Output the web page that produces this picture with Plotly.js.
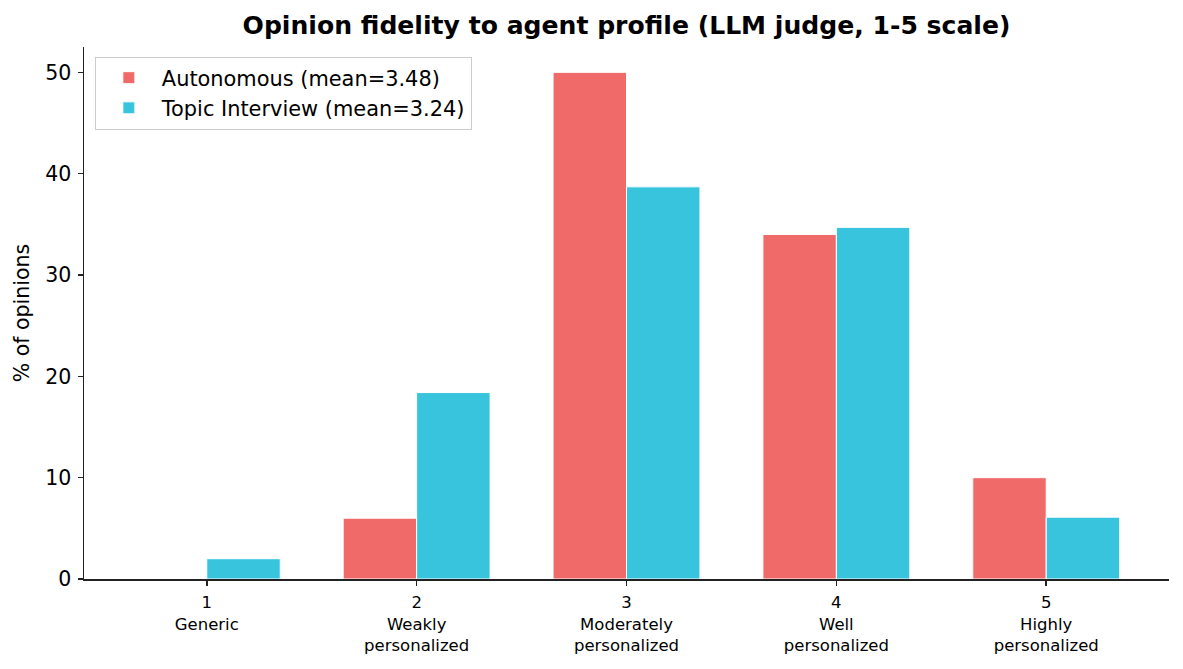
<!DOCTYPE html>
<html>
<head>
<meta charset="utf-8">
<script src="https://cdn.plot.ly/plotly-3.0.1.min.js"></script>
<style>html,body{margin:0;padding:0;background:#fff;}#chart{width:1183px;height:669px;}</style>
</head>
<body>
<div id="chart"></div>
<script>
const scores = [1, 2, 3, 4, 5];
const tickLabels = ["1<br>Generic", "2<br>Weakly<br>personalized", "3<br>Moderately<br>personalized", "4<br>Well<br>personalized", "5<br>Highly<br>personalized"];
const autonomous = [0, 6.0, 50.0, 34.0, 10.0];
const topicInterview = [2.0, 18.4, 38.7, 34.7, 6.1];
const seriesNames = ["Autonomous (mean=3.48)", "Topic Interview (mean=3.24)"];

const FONT = "DejaVu Sans, sans-serif";
const traces = [
  {type: "bar", x: scores, y: autonomous, name: seriesNames[0],
   marker: {color: "#F06A6A", line: {color: "#ffffff", width: 1}}},
  {type: "bar", x: scores, y: topicInterview, name: seriesNames[1],
   marker: {color: "#38C4DD", line: {color: "#ffffff", width: 1}}}
];
const layout = {
  width: 1183, height: 669,
  margin: {l: 84, r: 14, t: 47, b: 90},
  paper_bgcolor: "#ffffff", plot_bgcolor: "#ffffff",
  font: {family: FONT, color: "#000000"},
  barmode: "group", bargap: 0.3, bargroupgap: 0,
  title: {text: "<b>Opinion fidelity to agent profile (LLM judge, 1-5 scale)</b>",
    font: {family: FONT, size: 25.1, color: "#000"},
    x: 0.5, xref: "paper", xanchor: "center", y: 1 - 25/669, yref: "container", yanchor: "middle"},
  xaxis: {range: [0.415, 5.585], tickmode: "array", tickvals: scores, ticktext: tickLabels,
    showgrid: false, zeroline: false, showline: true, linecolor: "#222", linewidth: 1.5,
    ticks: "outside", ticklen: 5, tickwidth: 1.5, tickcolor: "#222", ticklabelstandoff: 3,
    tickfont: {family: FONT, size: 16.5, color: "#000"}},
  yaxis: {range: [0, 52.5], tickvals: [0, 10, 20, 30, 40, 50],
    showgrid: false, zeroline: false, showline: true, linecolor: "#222", linewidth: 1.5,
    ticks: "outside", ticklen: 5, tickwidth: 1.5, tickcolor: "#222", ticklabelstandoff: 2,
    tickfont: {family: FONT, size: 20.5, color: "#000"},
    title: {text: "% of opinions", font: {family: FONT, size: 20.5, color: "#000"}, standoff: 10}},
  legend: {x: 0.01, y: 0.982, xanchor: "left", yanchor: "top", xref: "paper", yref: "paper",
    bgcolor: "rgba(255,255,255,0.8)", bordercolor: "#cccccc", borderwidth: 1,
    font: {family: FONT, size: 20.9, color: "#000"}, tracegroupgap: 0, itemwidth: 56}
};
Plotly.newPlot("chart", traces, layout, {displayModeBar: false, staticPlot: true});
</script>
</body>
</html>
